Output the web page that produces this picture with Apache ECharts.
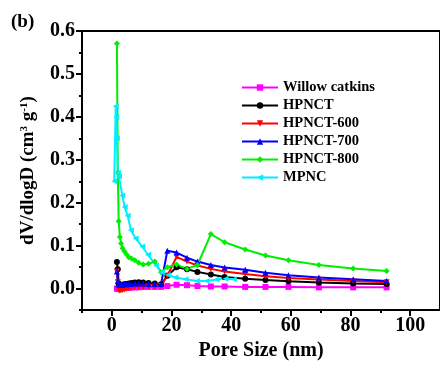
<!DOCTYPE html>
<html>
<head>
<meta charset="utf-8">
<script src="https://cdn.jsdelivr.net/npm/echarts@6/dist/echarts.min.js"></script>
<style>
    html, body {margin: 0; padding: 0; background: #fff;}
    #chart {width: 440px; height: 366px;}
</style>
</head>
<body>
<div id="chart"></div>
<script>
// pore size bins (nm)
var poreSize = [1.7, 2.0, 2.3, 2.7, 3.1, 3.6, 4.2, 4.9, 5.7, 6.6, 7.7, 9.0, 10.5, 12.3, 14.4, 16.5,
    18.6, 21.7, 25.2, 28.7, 33.2, 37.8, 44.7, 51.5, 59.2, 69.4, 80.9, 92.1];
var mpncSize = [0.8, 1.3, 1.5, 1.7, 2.0, 2.4, 3.5, 4.3, 5.3, 6.4, 8.0, 10.2, 12.1, 14.8, 16.7,
    18.9, 21.3, 24.7, 28.5, 31.8, 35.1, 38.1, 40.9];

var willow = [0.0, 0.0, 0.0, 0.001, 0.001, 0.001, 0.002, 0.002, 0.002, 0.003, 0.003, 0.003, 0.004, 0.004, 0.004, 0.004,
    0.006, 0.009, 0.008, 0.006, 0.005, 0.005, 0.004, 0.004, 0.004, 0.003, 0.003, 0.003];
var hpnct = [0.062, 0.045, 0.012, 0.008, 0.008, 0.009, 0.010, 0.011, 0.012, 0.013, 0.014, 0.015, 0.014, 0.013, 0.012, 0.010,
    0.030, 0.050, 0.045, 0.039, 0.033, 0.027, 0.023, 0.020, 0.017, 0.014, 0.012, 0.011];
var hpnct600 = [0.040, 0.015, -0.003, -0.005, -0.004, -0.003, -0.002, 0.0, 0.001, 0.002, 0.003, 0.004, 0.004, 0.005, 0.005, 0.006,
    0.030, 0.074, 0.063, 0.054, 0.046, 0.040, 0.034, 0.029, 0.025, 0.021, 0.018, 0.015];
var hpnct700 = [0.040, 0.018, 0.010, 0.009, 0.009, 0.009, 0.010, 0.010, 0.011, 0.011, 0.012, 0.012, 0.012, 0.011, 0.011, 0.011,
    0.088, 0.084, 0.072, 0.063, 0.055, 0.049, 0.044, 0.037, 0.031, 0.026, 0.022, 0.018];
var hpnct800 = [0.571, 0.270, 0.157, 0.120, 0.105, 0.094, 0.087, 0.080, 0.073, 0.070, 0.066, 0.060, 0.056, 0.058, 0.063, 0.038,
    0.050, 0.056, 0.046, 0.055, 0.127, 0.108, 0.091, 0.077, 0.066, 0.055, 0.047, 0.041];
var mpnc = [0.250, 0.425, 0.400, 0.350, 0.270, 0.262, 0.217, 0.190, 0.170, 0.136, 0.117, 0.098, 0.079, 0.054, 0.038,
    0.032, 0.026, 0.022, 0.018, 0.018, 0.021, 0.023, 0.022];

var xMajor = [0, 20, 40, 60, 80, 100];
var xMinor = [-10, 10, 30, 50, 70, 90];
var yMajor = [0.0, 0.1, 0.2, 0.3, 0.4, 0.5, 0.6];
var yMinor = [-0.05, 0.05, 0.15, 0.25, 0.35, 0.45, 0.55];

var font = '"Liberation Serif", "Times New Roman", serif';

function pair(xs, ys) {
    return xs.map(function (x, i) {
        return [x, ys[i]];
    });
}

function line(name, xs, ys, color, symbol, rotate) {
    return {
        name: name,
        type: 'line',
        data: pair(xs, ys),
        color: color,
        symbol: symbol,
        symbolRotate: rotate || 0,
        symbolSize: 6,
        lineStyle: {width: 2},
        itemStyle: {color: color},
        z: 2
    };
}

var chart = echarts.init(document.getElementById('chart'));
var option = {
    animation: false,
    title: {
        text: '(b)',
        left: 6,
        top: 8,
        textStyle: {fontFamily: font, fontWeight: 'bold', fontSize: 19, color: '#000'}
    },
    legend: {
        orient: 'vertical',
        left: 236,
        top: 75,
        itemWidth: 36,
        itemHeight: 8,
        itemGap: 3,
        textStyle: {fontFamily: font, fontWeight: 'bold', fontSize: 14.5, color: '#000'}
    },
    grid: {
        left: 82,
        top: 31,
        right: -8,
        bottom: 53,
        show: true,
        borderColor: '#000',
        borderWidth: 2
    },
    xAxis: [{
        type: 'value',
        min: -10,
        max: 110,
        name: 'Pore Size (nm)',
        nameLocation: 'middle',
        nameGap: 30,
        nameTextStyle: {fontFamily: font, fontWeight: 'bold', fontSize: 20, color: '#000'},
        axisLine: {onZero: false, lineStyle: {color: '#000', width: 2}},
        axisTick: {customValues: xMajor, length: 6, lineStyle: {width: 2, color: '#000'}},
        axisLabel: {customValues: xMajor, margin: 6, fontFamily: font, fontWeight: 'bold', fontSize: 20, color: '#000'},
        splitLine: {show: false}
    }, {
        // minor ticks
        type: 'value',
        min: -10,
        max: 110,
        position: 'bottom',
        axisLine: {show: false, onZero: false},
        axisTick: {customValues: xMinor, length: 3, lineStyle: {width: 2, color: '#000'}},
        axisLabel: {show: false},
        splitLine: {show: false}
    }],
    yAxis: [{
        type: 'value',
        min: -0.05,
        max: 0.6,
        name: '{a|dV/dlogD (cm}{s|3}{a| g}{s|-1}{a|)}',
        nameLocation: 'middle',
        nameGap: 44,
        nameTextStyle: {
            rich: {
                a: {fontFamily: font, fontWeight: 'bold', fontSize: 19, color: '#000'},
                s: {fontFamily: font, fontWeight: 'bold', fontSize: 11, color: '#000', verticalAlign: 'top', padding: [0, 0, 8, 0]}
            }
        },
        axisLine: {onZero: false, lineStyle: {color: '#000', width: 2}},
        axisTick: {customValues: yMajor, length: 6, lineStyle: {width: 2, color: '#000'}},
        axisLabel: {
            customValues: yMajor,
            margin: 7,
            fontFamily: font, fontWeight: 'bold', fontSize: 20, color: '#000',
            formatter: function (v) {
                return v.toFixed(1);
            }
        },
        splitLine: {show: false}
    }, {
        // minor ticks
        type: 'value',
        min: -0.05,
        max: 0.6,
        position: 'left',
        axisLine: {show: false, onZero: false},
        axisTick: {customValues: yMinor, length: 3, lineStyle: {width: 2, color: '#000'}},
        axisLabel: {show: false},
        splitLine: {show: false}
    }],
    series: [
        line('Willow catkins', poreSize, willow, '#ff00ff', 'rect'),
        line('HPNCT', poreSize, hpnct, '#000000', 'circle'),
        line('HPNCT-600', poreSize, hpnct600, '#ff0000', 'triangle', 180),
        line('HPNCT-700', poreSize, hpnct700, '#0000ff', 'triangle'),
        line('HPNCT-800', poreSize, hpnct800, '#00ee00', 'diamond'),
        line('MPNC', mpncSize, mpnc, '#00eeff', 'triangle', 90)
    ]
};
chart.setOption(option);
</script>
</body>
</html>
